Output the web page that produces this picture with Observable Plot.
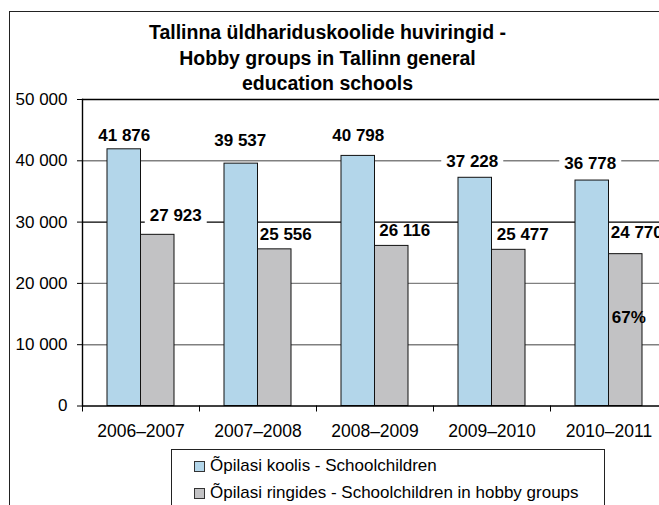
<!DOCTYPE html>
<html><head><meta charset="utf-8">
<script src="https://cdn.jsdelivr.net/npm/d3@7"></script>
<script src="https://cdn.jsdelivr.net/npm/@observablehq/plot@0.6"></script>
<style>
html,body{margin:0;padding:0;background:#fff;overflow:hidden;}
#wrap{position:relative;width:659px;height:505px;overflow:hidden;font-family:"Liberation Sans",Arial,sans-serif;color:#000;}
#border{position:absolute;left:9px;top:11px;width:800px;height:800px;border:1.5px solid #222;box-sizing:border-box;}
#title{position:absolute;left:0;top:20px;width:655px;text-align:center;font-weight:bold;font-size:19.5px;line-height:25.5px;}
#legend{position:absolute;left:171px;top:449px;width:434px;height:100px;border:1px solid #222;box-sizing:border-box;background:#fff;}
.sw{position:absolute;left:22px;width:9px;height:9px;border:1px solid #333;}
.lt{position:absolute;left:38px;font-size:17px;white-space:nowrap;line-height:20px;}
#chart{position:absolute;left:0;top:0;}
</style></head><body><div id="wrap"><div id="chart"></div><div id="border"></div><div id="title"></div><div id="legend"></div></div>
<script>
const years = ["2006–2007","2007–2008","2008–2009","2009–2010","2010–2011"];
const schoolchildren = [41876, 39537, 40798, 37228, 36778];
const hobbyGroups = [27923, 25556, 26116, 25477, 24770];
const seriesNames = ["Õpilasi koolis - Schoolchildren", "Õpilasi ringides - Schoolchildren in hobby groups"];
const yTicks = [0, 10000, 20000, 30000, 40000, 50000];
const titleLines = ["Tallinna üldhariduskoolide huviringid -", "Hobby groups in Tallinn general", "education schools"];

const colors = ["#b3d6ea", "#c2c2c4"];
const fmt = v => d3.format(",")(v).replace(/,/g, " ");

const rowsA = years.map((y, i) => ({year: y, value: schoolchildren[i]}));
const rowsB = years.map((y, i) => ({year: y, value: hobbyGroups[i], share: hobbyGroups[i] / schoolchildren[i]}));

// label nudges (pixels) for the manually-placed Excel labels
const blueNudge = [[0,-14],[-1,-23],[0,-20],[-3,-16],[-2,-17]];
const grayNudge = [[18,-19],[11,-15],[13,-15],[14,-15],[11,-22]];

// white label background box as a custom dot symbol
const boxSymbol = {draw(context) { context.rect(-31, -9, 62, 18); }};

const boxMarks = [], labelMarks = [];
const addLabel = (r, dx, dy) => {
  boxMarks.push(Plot.dot([r], {x: "year", y: "value", dx, dy: dy + 1, symbol: boxSymbol, fill: "white", stroke: "none"}));
  labelMarks.push(Plot.text([r], {x: "year", y: "value", text: d => fmt(d.value), dx, dy, fontSize: 17, fontWeight: "bold", fill: "#000"}));
};
rowsA.forEach((r, i) => addLabel(r, -16.75 + blueNudge[i][0], blueNudge[i][1]));
rowsB.forEach((r, i) => addLabel(r, 16.75 + grayNudge[i][0], grayNudge[i][1]));

const step = 117;
const chart = Plot.plot({
  width: 659, height: 505,
  marginLeft: 82, marginRight: 0, marginTop: 99, marginBottom: 99.5,
  style: {fontFamily: "'Liberation Sans', Arial, sans-serif", fontSize: "17px", color: "#000", background: "transparent"},
  x: {domain: years, range: [82, 667], paddingInner: 0.4274, paddingOuter: 0.2137, axis: null},
  y: {domain: [0, 50000], axis: null},
  marks: [
    Plot.ruleY(yTicks.filter(d => d > 0), {y: d => d, stroke: d => (d === 30000 || d === 50000) ? "#000" : "#808080", strokeWidth: 1.4}),
    ...boxMarks,
    ...labelMarks,
    Plot.barY(rowsA, {x: "year", y: "value", fill: colors[0], stroke: "#111", strokeWidth: 1, insetRight: 33.5}),
    Plot.barY(rowsB, {x: "year", y: "value", fill: colors[1], stroke: "#111", strokeWidth: 1, insetLeft: 33.5}),
    Plot.text([rowsB[rowsB.length - 1]], {x: "year", y: "value", text: d => d3.format(".0%")(d.share), dx: 16.75 + 3, dy: 63, fontSize: 17, fontWeight: "bold", fill: "#000"}),
    Plot.ruleY([0], {stroke: "#000", strokeWidth: 1.4}),
    Plot.frame({anchor: "left", stroke: "#000", strokeWidth: 1.4}),
    Plot.axisY({ticks: yTicks, tickFormat: fmt, tickSize: 5, tickPadding: 10, fontSize: 17, stroke: "#000", fill: "#000", label: null}),
    Plot.axisX({text: null, tickSize: 6, dx: -step / 2, stroke: "#000", label: null}),
    Plot.axisX({tickSize: 0, tickPadding: 19, fontSize: 17.5, fill: "#000", label: null})
  ]
});
document.getElementById("chart").appendChild(chart);

document.getElementById("title").innerHTML = titleLines.join("<br>");
const leg = document.getElementById("legend");
seriesNames.forEach((name, i) => {
  const sw = document.createElement("div");
  sw.className = "sw";
  sw.style.top = (11 + i * 27) + "px";
  sw.style.background = colors[i];
  leg.appendChild(sw);
  const t = document.createElement("div");
  t.className = "lt";
  t.style.top = (6 + i * 27) + "px";
  t.textContent = name;
  leg.appendChild(t);
});
</script></body></html>
